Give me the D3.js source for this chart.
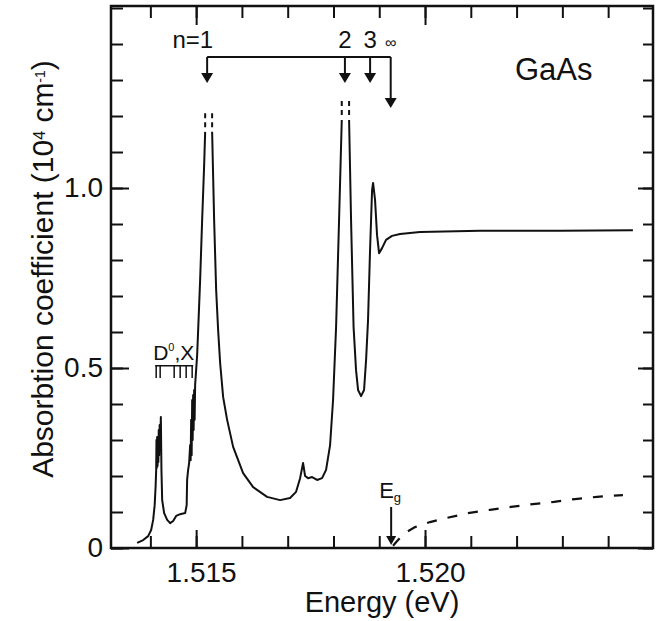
<!DOCTYPE html>
<html>
<head>
<meta charset="utf-8">
<script src="https://cdn.jsdelivr.net/npm/d3@7"></script>
<style>
    body { margin: 0; background: #fff; }
    text { font-family: "Liberation Sans", Arial, sans-serif; fill: #111; }
</style>
</head>
<body>
<div id="chart"></div>
<script>
// --------- DATA ---------

// measured absorption spectrum (eV, 10^4 cm^-1), null = off-scale break
const energy = [
    1.513712, 1.513843, 1.513952, 1.514017, 1.514061, 1.514094, 1.514116, 1.514127,
    1.514133, 1.514140, 1.514148, 1.514157, 1.514166, 1.514175, 1.514183, 1.514192, 1.514203, 1.514214, 1.514229,
    1.514242, 1.514258, 1.514301, 1.514367, 1.514432, 1.514498, 1.514563, 1.514651, 1.514760,
    1.514793, 1.514803, 1.514825, 1.514847,
    1.514869, 1.514880, 1.514891, 1.514902, 1.514913, 1.514924, 1.514934, 1.514945, 1.514956, 1.514967, 1.514978,
    1.515000, 1.515022, 1.515044, 1.515087, 1.515131, 1.515175, 1.515197,
    1.515273,
    1.515349, 1.515393, 1.515437, 1.515480, 1.515524, 1.515590, 1.515677, 1.515808,
    1.516026, 1.516245, 1.516550, 1.516834,
    1.517052, 1.517183, 1.517271, 1.517336, 1.517380, 1.517445, 1.517533, 1.517642, 1.517751, 1.517838, 1.517926, 1.517991,
    1.518057, 1.518122, 1.518181,
    1.518261,
    1.518341, 1.518384, 1.518439, 1.518493, 1.518537, 1.518603, 1.518668, 1.518712, 1.518755, 1.518799, 1.518843,
    1.518865, 1.518908, 1.518952, 1.518996,
    1.519061, 1.519148, 1.519279, 1.519454, 1.519891,
    1.521201, 1.522948, 1.524541
];
const absorption = [
    0.014, 0.022, 0.033, 0.050, 0.078, 0.119, 0.175, 0.217,
    0.300, 0.222, 0.308, 0.228, 0.300, 0.239, 0.328, 0.258, 0.342, 0.286, 0.364,
    0.217, 0.133, 0.097, 0.078, 0.069, 0.075, 0.089, 0.094, 0.097,
    0.119, 0.189, 0.217, 0.236,
    0.286, 0.244, 0.356, 0.258, 0.411, 0.300, 0.425, 0.328, 0.439, 0.356, 0.453,
    0.494, 0.536, 0.606, 0.744, 0.911, 1.064, 1.156,
    null,
    1.156, 0.911, 0.717, 0.606, 0.514, 0.419, 0.356, 0.281,
    0.208, 0.169, 0.142, 0.133,
    0.139, 0.156, 0.194, 0.236, 0.200, 0.194, 0.197, 0.189, 0.194, 0.217, 0.286, 0.411,
    0.614, 0.911, 1.189,
    null,
    1.189, 0.911, 0.614, 0.494, 0.439, 0.422, 0.439, 0.522, 0.633, 0.828, 0.994,
    1.014, 0.967, 0.869, 0.819,
    0.833, 0.856, 0.867, 0.872, 0.878,
    0.881, 0.881, 0.883
];

// continuum absorption without excitons (dashed)
const edgeEnergy = [1.519301, 1.519410, 1.519563, 1.519782, 1.520109, 1.520459, 1.520939,
    1.521419, 1.521878, 1.522358, 1.522817, 1.523275, 1.523755, 1.524323];
const edgeAbsorption = [0.006, 0.022, 0.042, 0.058, 0.072, 0.083, 0.097,
    0.106, 0.114, 0.122, 0.128, 0.136, 0.142, 0.147];

// dotted continuation of the off-scale peaks
const breakEnergy = [1.515197, 1.515349, 1.518181, 1.518341];
const breakLow = [1.169, 1.169, 1.203, 1.203];
const breakHigh = [1.208, 1.208, 1.242, 1.242];

// exciton series markers
const excitonLabels = ["n=1", "2", "3", "\u221E"];
const excitonEnergy = [1.51524, 1.51825, 1.51880, 1.51925];
const excitonTip = [1.292, 1.292, 1.292, 1.222];
const bracketLevel = 1.364;
const labelLevel = 1.389;

// bound exciton lines (D0,X)
const boundEnergy = [1.514127, 1.514214, 1.514520, 1.514651, 1.514782, 1.514913];
const boundLevel = [0.506, 0.472];

// band gap
const gapEnergy = 1.51926;
const gapArrow = [0.114, 0.008];

// ticks
const xMinorTicks = [1.514, 1.515, 1.516, 1.517, 1.518, 1.519, 1.520, 1.521, 1.522, 1.523, 1.524];
const xMajorTicks = [1.515, 1.520];
const xTickLabels = ["1.515", "1.520"];
const yMinorTicks = [0, 0.1, 0.2, 0.3, 0.4, 0.5, 0.6, 0.7, 0.8, 0.9, 1.0, 1.1, 1.2, 1.3, 1.4, 1.5];
const yMajorTicks = [0, 0.5, 1.0];
const yTickLabels = ["0", "0.5", "1.0"];

// --------- GRAPHING ---------

function chart() {
    let margin = {top: 6, right: 3, bottom: 73, left: 111},
        width = 656 - margin.left - margin.right,
        height = 621 - margin.top - margin.bottom;

    let svg = d3.select("#chart")
        .append("svg")
        .attr("width", 656)
        .attr("height", 621);

    let graph = svg.append("g")
        .attr("transform", "translate(" + margin.left + "," + margin.top + ")");

    let xScale = d3.scaleLinear().domain([1.51314, 1.52498]).range([0, width]);
    let yScale = d3.scaleLinear().domain([0, 1.5056]).range([height, 0]);

    // Ticks, all pointing inward
    function styleAxis(g) {
        g.select(".domain").remove();
        g.selectAll("line").attr("stroke", "#111").attr("stroke-width", 2);
        g.selectAll("text").attr("font-size", 28).attr("fill", "#111");
    }

    graph.append("g").attr("transform", "translate(0," + height + ")")
        .call(d3.axisBottom(xScale).tickValues(xMinorTicks).tickSize(-12).tickFormat(""))
        .call(styleAxis);
    graph.append("g").attr("transform", "translate(0," + height + ")")
        .call(d3.axisBottom(xScale).tickValues(xMajorTicks).tickSize(-18).tickPadding(14)
            .tickFormat((d, i) => xTickLabels[i]))
        .call(styleAxis)
        .selectAll("text").attr("dx", 5);

    graph.append("g")
        .call(d3.axisTop(xScale).tickValues(xMinorTicks).tickSize(-12).tickFormat(""))
        .call(styleAxis);
    graph.append("g")
        .call(d3.axisTop(xScale).tickValues(xMajorTicks).tickSize(-19).tickFormat(""))
        .call(styleAxis);

    graph.append("g")
        .call(d3.axisLeft(yScale).tickValues(yMinorTicks).tickSize(-12).tickFormat(""))
        .call(styleAxis);
    graph.append("g")
        .call(d3.axisLeft(yScale).tickValues(yMajorTicks).tickSize(-18).tickPadding(8)
            .tickFormat((d, i) => yTickLabels[i]))
        .call(styleAxis);

    graph.append("g").attr("transform", "translate(" + width + ",0)")
        .call(d3.axisRight(yScale).tickValues(yMinorTicks).tickSize(-10).tickFormat(""))
        .call(styleAxis);
    graph.append("g").attr("transform", "translate(" + width + ",0)")
        .call(d3.axisRight(yScale).tickValues(yMajorTicks).tickSize(-15).tickFormat(""))
        .call(styleAxis);

    // Frame
    graph.append("rect")
        .attr("width", width).attr("height", height)
        .attr("fill", "none").attr("stroke", "#111").attr("stroke-width", 2.5);

    // Spectrum
    let line = d3.line()
        .defined(d => d[1] !== null)
        .x(d => xScale(d[0]))
        .y(d => yScale(d[1]));

    graph.append("path")
        .attr("fill", "none")
        .attr("stroke", "#111")
        .attr("stroke-width", 2)
        .attr("stroke-linejoin", "round")
        .attr("d", line(d3.zip(energy, absorption)));

    graph.selectAll(".break")
        .data(breakEnergy)
        .enter().append("line")
        .attr("x1", d => xScale(d)).attr("x2", d => xScale(d))
        .attr("y1", (d, i) => yScale(breakLow[i]))
        .attr("y2", (d, i) => yScale(breakHigh[i]))
        .attr("stroke", "#111").attr("stroke-width", 2)
        .attr("stroke-dasharray", "5,4");

    graph.append("path")
        .attr("fill", "none")
        .attr("stroke", "#111")
        .attr("stroke-width", 2.2)
        .attr("stroke-dasharray", "10,11")
        .attr("d", line(d3.zip(edgeEnergy, edgeAbsorption)));

    // Exciton arrows
    function arrowHead(x, y, w, h) {
        return "M" + (x - w / 2) + "," + (y - h) + "L" + (x + w / 2) + "," + (y - h) + "L" + x + "," + y + "Z";
    }

    let xs = excitonEnergy.map(d => xScale(d));
    graph.append("line")
        .attr("x1", xs[0]).attr("x2", xs[xs.length - 1])
        .attr("y1", yScale(bracketLevel)).attr("y2", yScale(bracketLevel))
        .attr("stroke", "#111").attr("stroke-width", 2);

    excitonEnergy.forEach((e, i) => {
        let x = xScale(e), tip = yScale(excitonTip[i]);
        graph.append("line")
            .attr("x1", x).attr("x2", x)
            .attr("y1", yScale(bracketLevel)).attr("y2", tip - 8)
            .attr("stroke", "#111").attr("stroke-width", 2);
        graph.append("path").attr("d", arrowHead(x, tip, 12, 10)).attr("fill", "#111");
        graph.append("text")
            .attr("x", i === 0 ? x + 6 : x)
            .attr("y", yScale(labelLevel))
            .attr("text-anchor", i === 0 ? "end" : "middle")
            .attr("font-size", i === 3 ? 16 : 24)
            .text(excitonLabels[i]);
    });

    // Bound exciton lines
    let bx = boundEnergy.map(d => xScale(d));
    graph.append("line")
        .attr("x1", bx[0] - 1).attr("x2", bx[bx.length - 1] + 1)
        .attr("y1", yScale(boundLevel[0])).attr("y2", yScale(boundLevel[0]))
        .attr("stroke", "#111").attr("stroke-width", 1.5);
    graph.selectAll(".bound")
        .data(boundEnergy)
        .enter().append("line")
        .attr("x1", d => xScale(d)).attr("x2", d => xScale(d))
        .attr("y1", yScale(boundLevel[0])).attr("y2", yScale(boundLevel[1]))
        .attr("stroke", "#111").attr("stroke-width", 1.5);

    let dx = graph.append("text")
        .attr("x", bx[0] - 3)
        .attr("y", yScale(boundLevel[0]) - 6)
        .attr("font-size", 21);
    dx.append("tspan").text("D");
    dx.append("tspan").attr("font-size", 11).attr("baseline-shift", "80%").text("0");
    dx.append("tspan").text(",X");

    // Band gap arrow
    let gx = xScale(gapEnergy);
    graph.append("line")
        .attr("x1", gx).attr("x2", gx)
        .attr("y1", yScale(gapArrow[0])).attr("y2", yScale(gapArrow[1]) - 7)
        .attr("stroke", "#111").attr("stroke-width", 2);
    graph.append("path").attr("d", arrowHead(gx, yScale(gapArrow[1]), 10, 9)).attr("fill", "#111");
    let eg = graph.append("text")
        .attr("x", gx - 12)
        .attr("y", yScale(gapArrow[0]) - 9)
        .attr("font-size", 22);
    eg.append("tspan").text("E");
    eg.append("tspan").attr("font-size", 13).attr("baseline-shift", "-30%").text("g");

    // Sample label
    graph.append("text")
        .attr("x", 404).attr("y", 74)
        .attr("font-size", 31)
        .text("GaAs");

    // Axis titles
    svg.append("text")
        .attr("x", margin.left + width / 2)
        .attr("y", 612)
        .attr("text-anchor", "middle")
        .attr("font-size", 29)
        .text("Energy (eV)");

    let yt = svg.append("text")
        .attr("transform", "translate(53,269) rotate(-90)")
        .attr("text-anchor", "middle")
        .attr("font-size", 30);
    yt.append("tspan").text("Absorbtion coefficient  (10");
    yt.append("tspan").attr("font-size", 16).attr("baseline-shift", "super").text("4");
    yt.append("tspan").text(" cm");
    yt.append("tspan").attr("font-size", 14).attr("baseline-shift", "super").text("-1");
    yt.append("tspan").text(")");
}

chart();
</script>
</body>
</html>
